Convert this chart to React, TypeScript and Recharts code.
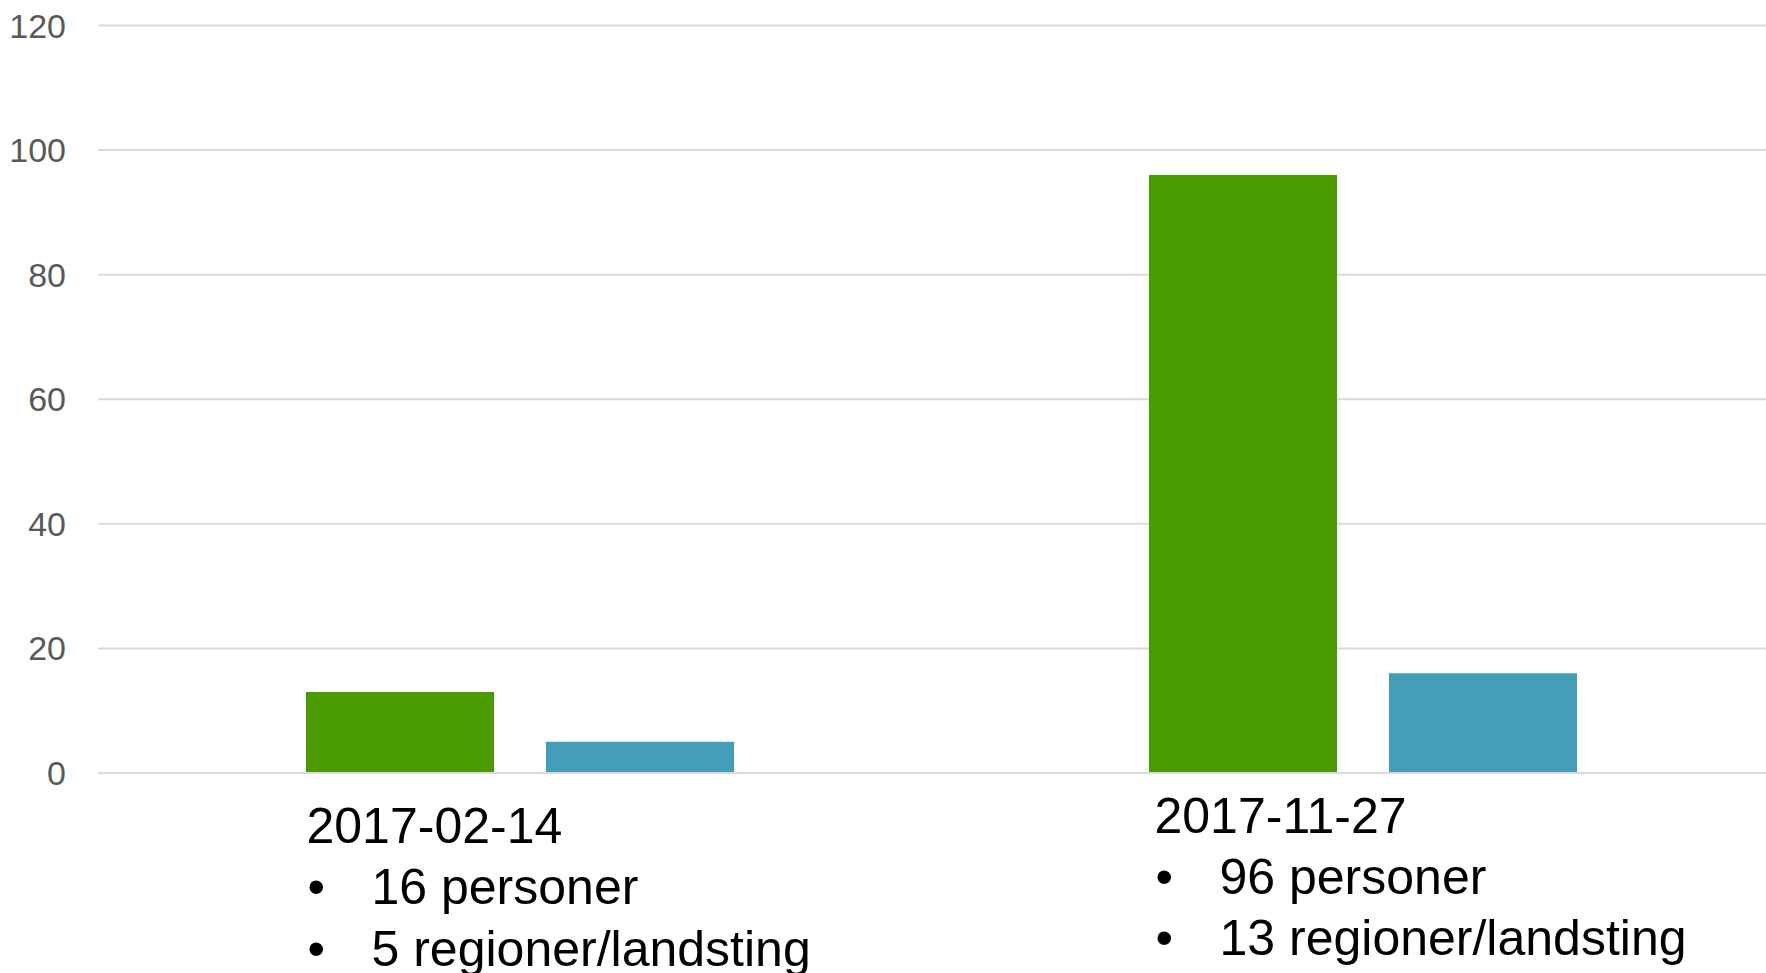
import { BarChart, Bar, XAxis, YAxis, CartesianGrid } from 'recharts';

const categories = ['2017-02-14', '2017-11-27'];
const personer = [13, 96];
const regioner = [5, 16];
const detailLines = [
  ['16 personer', '5 regioner/landsting'],
  ['96 personer', '13 regioner/landsting'],
];
const yTicks = [0, 20, 40, 60, 80, 100, 120];

const data = categories.map((date, i) => ({ date, personer: personer[i], regioner: regioner[i] }));

const FONT = '"Liberation Sans", Arial, sans-serif';
const GRID = '#d9d9d9';

// the two label blocks are not placed identically in the original
const labelShift = [
  { dx: -213, dy: 0 },
  { dx: -208, dy: -10.5 },
];

function DateTick(props: any) {
  const { x, y, payload, index } = props;
  const s = labelShift[index] || { dx: -210, dy: 0 };
  const left = x + s.dx;
  const top = y + s.dy;
  const lines = detailLines[index] || [];
  const txt = { fontFamily: FONT, fontSize: 50, fill: '#000' };
  return (
    <g>
      <text x={left} y={top + 70} {...txt}>{payload.value}</text>
      {lines.map((l, i) => (
        <g key={i}>
          <text x={left + 1} y={top + 131 + i * 61.5} {...txt}>•</text>
          <text x={left + 65} y={top + 131 + i * 61.5} {...txt}>{l}</text>
        </g>
      ))}
    </g>
  );
}

export default function App() {
  return (
    <div style={{ position: 'absolute', left: 0, top: 0, width: 1766, height: 973, overflow: 'hidden', background: '#fff' }}>
      <BarChart
        width={1784}
        height={973}
        data={data}
        margin={{ top: 25.5, right: 0, bottom: 0, left: 0 }}
        barGap={52}
        barSize={188}
      >
        <CartesianGrid vertical={false} stroke={GRID} strokeWidth={2} />
        <XAxis
          dataKey="date"
          height={200}
          interval={0}
          axisLine={{ stroke: GRID, strokeWidth: 2 }}
          tickLine={false}
          tickSize={0}
          tickMargin={0}
          tick={DateTick}
        />
        <YAxis
          width={98}
          domain={[0, 120]}
          ticks={yTicks}
          axisLine={false}
          tickLine={false}
          tickSize={0}
          tickMargin={32}
          tick={{ fontFamily: FONT, fontSize: 34, fill: '#595959' }}
        />
        <Bar dataKey="personer" fill="#4A9B00" barSize={188} isAnimationActive={false} />
        <Bar dataKey="regioner" fill="#459EB9" barSize={188} isAnimationActive={false} />
      </BarChart>
    </div>
  );
}
